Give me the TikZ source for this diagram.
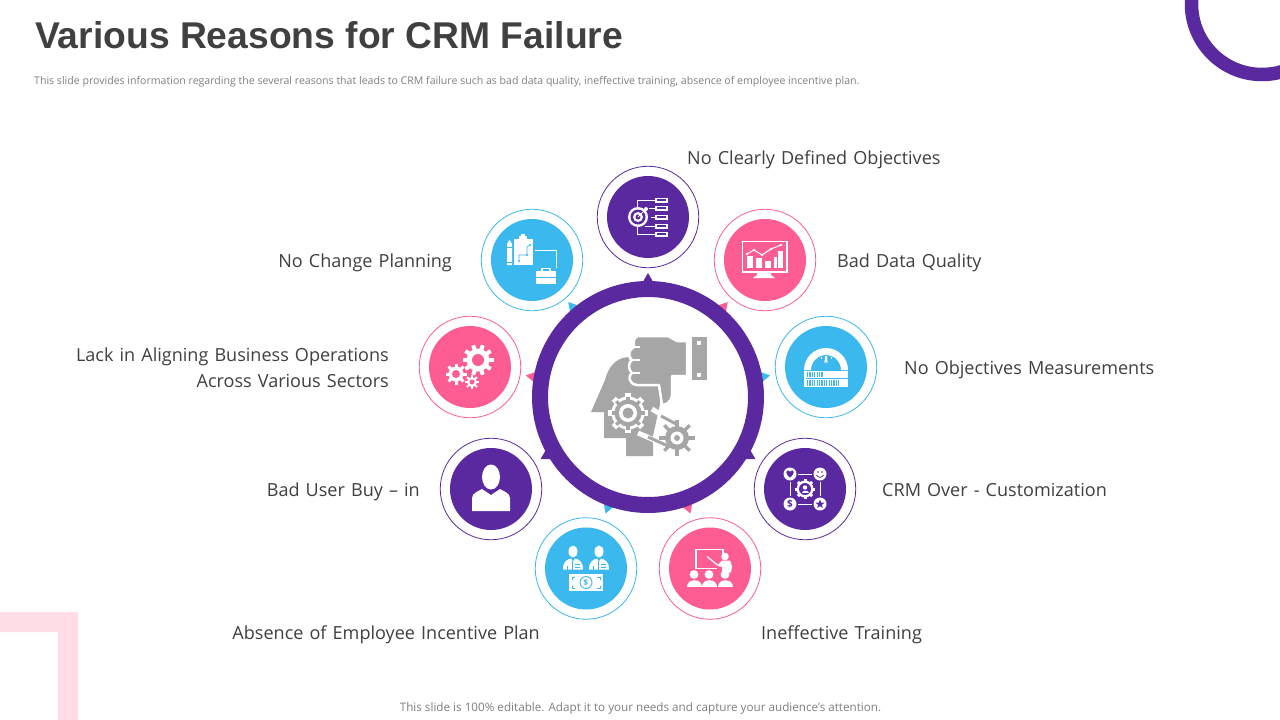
\documentclass[tikz,border=0pt]{standalone}
\usepackage{fontspec}
\setmainfont{Open Sans}
\newfontfamily\titlefont{Liberation Sans}
\newfontfamily\labelfont[WordSpace=1.3]{Open Sans}
\definecolor{cpurple}{HTML}{5A299F}
\definecolor{cpink}{HTML}{FD5D92}
\definecolor{cblue}{HTML}{3BB8EE}
\definecolor{cgray}{HTML}{A6A6A6}
\definecolor{ctitle}{HTML}{404040}
\definecolor{csub}{HTML}{7F7F7F}
\definecolor{clight}{HTML}{FFDCE6}
\tikzset{
  labeltext/.style={font=\labelfont\fontsize{18.05}{26}\selectfont,text=ctitle,inner sep=0pt},
  outerc/.style={circle,draw=#1,line width=0.8pt,minimum size=101.5pt,inner sep=0pt,fill=white},
  innerc/.style={circle,fill=#1,minimum size=82pt,inner sep=0pt},
  wline/.style={draw=white,line width=1.2pt},
  wfill/.style={fill=white}
}
\newcommand{\badge}[4]{%
  \node[outerc=#4] (o#1) at (#2,#3) {};
  \node[innerc=#4] (#1) at (o#1.center) {};
}
\newcommand{\pointer}[2]{%
  \begin{scope}[shift={(648,397)},rotate=-#1]
    \fill[#2] (0,-124) -- (-5.2,-115) -- (5.2,-115) -- cycle;
  \end{scope}
}
% x, y, outer, body, teeth, tooth width, colour
\newcommand{\gearat}[7]{%
  \fill[#7] (#1,#2) circle[radius=#4];
  \foreach \i in {1,...,#5}{\draw[#7,line width=#6pt] (#1,#2) -- ++({360/#5*\i}:#3);}
}
\begin{document}
\begin{tikzpicture}[x=1pt,y=-1pt]
\useasboundingbox (0,0) rectangle (1280,720);
\fill[white] (0,0) rectangle (1280,720);

% corner decorations
\begin{scope}
  \clip (0,0) rectangle (1280,720);
  \draw[cpurple,line width=13.5pt] (1262,4) circle[radius=70.5];
\end{scope}
\fill[clight] (0,612) -- (78,612) -- (78,720) -- (58,720) -- (58,632) -- (0,632) -- cycle;

% title and texts
\node[anchor=base west,inner sep=0pt,text=ctitle,font=\titlefont\bfseries\fontsize{37.25}{40}\selectfont] (title) at (35,48) {Various Reasons for CRM Failure};
\node[anchor=base west,inner sep=0pt,text=csub,font=\fontsize{10.57}{12}\selectfont] (sub) at (34,84) {This slide provides information regarding the several reasons that leads to CRM failure such as bad data quality, ineffective training, absence of employee incentive plan.};
\node[anchor=base,inner sep=0pt,text=csub,font=\fontsize{11.68}{13}\selectfont] (foot) at (640.5,711) {This slide is 100\% editable. Adapt it to your needs and capture your audience's attention.};

% pointers
\pointer{0}{cpurple}\pointer{40}{cpink}\pointer{80}{cblue}
\pointer{120}{cpurple}\pointer{160}{cpink}\pointer{200}{cblue}
\pointer{240}{cpurple}\pointer{280}{cpink}\pointer{320}{cblue}

% central ring
\node[circle,draw=cpurple,line width=16pt,minimum size=216pt,inner sep=0pt,fill=white] (hub) at (648,397) {};

% satellites
\badge{a}{648}{217}{cpurple}
\badge{b}{765}{260}{cpink}
\badge{c}{826}{367}{cblue}
\badge{d}{805}{489}{cpurple}
\badge{e}{710}{568.5}{cpink}
\badge{f}{586}{568.5}{cblue}
\badge{g}{491}{489}{cpurple}
\badge{h}{470}{367}{cpink}
\badge{i}{532}{260}{cblue}

% labels
\node[labeltext,anchor=base west] (la) at (687,164) {No Clearly Defined Objectives};
\node[labeltext,anchor=base west] (lb) at (837,267) {Bad Data Quality};
\node[labeltext,anchor=base west] (lc) at (904,374) {No Objectives Measurements};
\node[labeltext,anchor=base west] (ld) at (882,496) {CRM Over - Customization};
\node[labeltext,anchor=base west] (le) at (761,639) {Ineffective Training};
\node[labeltext,anchor=base east] (lf) at (540,639) {Absence of Employee Incentive Plan};
\node[labeltext,anchor=base east] (lg) at (420,496) {Bad User Buy – in};
\node[labeltext,anchor=east,align=right] (lh) at (389,367.5) {Lack in Aligning Business Operations\\Across Various Sectors};
\node[labeltext,anchor=base east] (li) at (452,267) {No Change Planning};

% central icon: head
\fill[cgray] (628,357) .. controls (615,358) and (608,368) .. (605,380) -- (591,412) -- (604,412) -- (604,438) -- (626,438) -- (626,456) -- (653,456) -- (653,436) -- (660,404) -- (660,385) -- (640,380) -- cycle;
% hand
\filldraw[cgray,draw=white,line width=2.5pt,line join=round] (638,336) -- (668,336) -- (677,341) -- (687,341) -- (687,376) -- (672,376) -- (672,396) .. controls (671,402) and (666,405) .. (662,405) -- (659,385) -- (637,385) .. controls (628,384) and (628,375) .. (632,373) .. controls (628,370) and (628,362) .. (632,360) .. controls (628,357) and (628,350) .. (634,347) .. controls (633,342) and (634,337) .. (638,336) -- cycle;
\draw[white,line width=1.6pt] (630,347) -- (640,347) (630,360) -- (640,360) (630,373) -- (640,373);
\fill[cgray] (692,337) rectangle (707,380);
\fill[white] (697,341) rectangle (701,345);
\fill[white] (697,373) rectangle (701,377);
% belts
\draw[white,line width=5pt] (652,409) -- (678,425);
\draw[white,line width=5pt] (638,433) -- (668,446);
\draw[cgray,line width=3pt] (661,416) -- (678,425);
\draw[cgray,line width=3pt] (648,437) -- (668,446);
% gears
\gearat{628}{413}{20}{16.5}{8}{6}{white}
\gearat{628}{413}{16.5}{13.5}{8}{3.5}{cgray}
\fill[white] (628,413) circle[radius=9];
\fill[cgray] (628,413) circle[radius=5.5];
\gearat{677}{438}{18}{12}{8}{3.5}{cgray}
\fill[white] (677,438) circle[radius=6.5];
\fill[cgray] (677,438) circle[radius=3];

% a: target and list
\begin{scope}[shift={(a.center)}]
  \fill[white] (-10,0) circle[radius=10];
  \fill[cpurple] (-10,0) circle[radius=7.5];
  \fill[white] (-10,0) circle[radius=5];
  \fill[cpurple] (-10,0) circle[radius=2.5];
  \draw[white,line width=1pt] (-10,0) -- (-2,-8);
  \fill[white] (-2,-8) circle[radius=2];
  \draw[wline,line width=.8pt] (-11,-10) -- (-11,-17) -- (7,-17);
  \draw[wline,line width=.8pt] (-11,10) -- (-11,17) -- (7,17);
  \draw[wline,line width=.8pt] (1,-9) -- (7,-9);
  \draw[wline,line width=.8pt] (3,0) -- (7,0);
  \draw[wline,line width=.8pt] (-3,9) -- (7,9);
  \foreach \yy in {-17,-9,0,9,17}{
    \fill[white] (7,\yy-2.5) rectangle (20,\yy+2.5);
    \fill[cpurple] (9,\yy-.7) rectangle (18,\yy+.7);
  }
\end{scope}

% b: monitor and chart
\begin{scope}[shift={(b.center)}]
  \draw[white,line width=1.5pt] (-22.5,-18.5) rectangle (22,12);
  \fill[white] (-8,12) -- (6,12) -- (6,15) -- (10,18) -- (-12,18) -- (-8,15) -- cycle;
  \fill[white] (-18,-4) rectangle (-12,8);
  \fill[white] (-9,-2) rectangle (-3,8);
  \fill[white] (0,1) rectangle (6,8);
  \fill[white] (9,-3) rectangle (12,8);
  \fill[white] (13,-9) rectangle (18,8);
  \draw[white,line width=1pt] (-18,-6) -- (-11,-10) -- (-3,-5) -- (6,-11) -- (16,-15);
  \foreach \p in {(-18,-6),(-11,-10),(-3,-5),(6,-11),(16,-15)}{\fill[white] \p circle[radius=1.3];}
\end{scope}

% c: gauge and scale
\begin{scope}[shift={(c.center)}]
  \fill[white] (-22,3) arc[start angle=180,end angle=360,radius=22] -- (15,3) arc[start angle=360,end angle=180,radius=15] -- cycle;
  \fill[white] (-22,3.5) rectangle (22,20);
  \fill[cblue] (-20,11) rectangle (22,12);
  \fill[white] (-1,-11) -- (1,-11) -- (1.5,-3) arc[start angle=0,end angle=180,radius=1.5,y radius=-2] -- cycle;
  \foreach \xx in {-10,-5,5,10}{\fill[white] (\xx-.4,-10) rectangle (\xx+.4,-8);}
  \foreach \xx in {-19,-16.6,...,-4}{\fill[cblue] (\xx,5) rectangle (\xx+1.2,10);}
  \foreach \xx in {-19,-16.6,...,13}{\fill[cblue] (\xx,13) rectangle (\xx+1.2,19);}
\end{scope}

% d: customization network
\begin{scope}[shift={(d.center)}]
  \draw[wline,line width=1pt] (-15,-15) rectangle (15,15);
  \foreach \xx/\yy in {-15/-15,15/-15,-15/15,15/15}{
    \fill[cpurple] (\xx,\yy) circle[radius=8];
    \fill[white] (\xx,\yy) circle[radius=6.5];
  }
  \gearat{0}{0}{10}{8.5}{8}{3}{white}
  \fill[cpurple] (0,0) circle[radius=6];
  \fill[white] (0,-1.5) circle[radius=2.2];
  \fill[white] (-3.5,4) .. controls (-3.5,1) and (3.5,1) .. (3.5,4) -- cycle;
  % heart
  \fill[cpurple] (-15,-11.5) .. controls (-20,-15) and (-19,-19) .. (-17,-18.5) .. controls (-16,-18.5) and (-15,-17.5) .. (-15,-17) .. controls (-15,-17.5) and (-14,-18.5) .. (-13,-18.5) .. controls (-11,-19) and (-10,-15) .. (-15,-11.5) -- cycle;
  % smile
  \fill[cpurple] (13,-17) circle[radius=.9] (17,-17) circle[radius=.9];
  \draw[cpurple,line width=.8pt] (11.5,-14) .. controls (13,-11) and (17,-11) .. (18.5,-14);
  % dollar
  \node[inner sep=0pt,text=cpurple,font=\bfseries\fontsize{10}{10}\selectfont] (dsign) at (-15,15) {\$};
  % star
  \fill[cpurple] (15,10.5) -- (16.2,13.7) -- (19.5,13.7) -- (16.9,15.8) -- (17.8,19) -- (15,17.1) -- (12.2,19) -- (13.1,15.8) -- (10.5,13.7) -- (13.8,13.7) -- cycle;
\end{scope}

% e: trainer and class
\begin{scope}[shift={(e.center)}]
  \draw[white,line width=1.1pt] (7,0) -- (-14,0) -- (-14,-19) -- (13,-19) -- (13,-13);
  \draw[white,line width=1.2pt] (-3,-12) -- (8,-3);
  \fill[white] (15,-12) circle[radius=3.8];
  \fill[white] (8,-4) -- (12,-8) -- (20,-8) -- (22,-2) -- (21,4) -- (12,4) -- (12,-2) -- (9,-2) -- cycle;
  \foreach \xx in {-16,-1,15}{
    \fill[white] (\xx,6) circle[radius=4.4];
    \fill[white] (\xx-7.5,18) .. controls (\xx-7.5,9) and (\xx+7.5,9) .. (\xx+7.5,18) -- cycle;
  }
\end{scope}

% f: staff and money
\begin{scope}[shift={(f.center)}]
  \foreach \xx in {-13,13}{
    \fill[white] (\xx,-17) ellipse[x radius=4.5,y radius=6];
    \fill[white] (\xx-10,1) .. controls (\xx-10,-7) and (\xx-6,-9) .. (\xx-2,-10) -- (\xx,-7) -- (\xx+2,-10) .. controls (\xx+6,-9) and (\xx+10,-7) .. (\xx+10,1) -- cycle;
    \draw[cblue,line width=.8pt] (\xx-1,-8) -- (\xx-1,1) (\xx-6,-3) -- (\xx-6,1);
    \draw[cblue,line width=.7pt] (\xx+1.5,-4) -- (\xx+7,-4) (\xx+1.5,-1.5) -- (\xx+7,-1.5);
  }
  \fill[white] (-17,5.5) rectangle (17,22);
  \draw[cblue,line width=.7pt] (-14,11) -- (-14,8.5) -- (-11,8.5) (11,8.5) -- (14,8.5) -- (14,11) (-14,17) -- (-14,19.5) -- (-11,19.5) (11,19.5) -- (14,19.5) -- (14,17);
  \draw[cblue,line width=.9pt] (0,14) circle[radius=6];
  \node[inner sep=0pt,text=cblue,font=\bfseries\fontsize{8}{8}\selectfont] (fsign) at (0,14) {\$};
\end{scope}

% g: user
\begin{scope}[shift={(g.center)}]
  \fill[white] (0,-12) ellipse[x radius=9,y radius=12.5];
  \fill[white] (-19,22) -- (-19,9) .. controls (-19,4) and (-12,2) .. (-9,0) -- (0,6) -- (9,0) .. controls (12,2) and (19,4) .. (19,9) -- (19,22) -- cycle;
\end{scope}

% h: three gears
\begin{scope}[shift={(h.center)}]
  \gearat{8}{-7}{15.5}{11.5}{10}{4}{white}
  \fill[cpink] (8,-7) circle[radius=6];
  \gearat{-14}{7}{10.5}{7.5}{8}{3}{white}
  \fill[cpink] (-14,7) circle[radius=4];
  \gearat{2}{15}{7}{5}{8}{2}{white}
  \fill[cpink] (2,15) circle[radius=2.5];
\end{scope}

% i: plan, pencil, briefcase
\begin{scope}[shift={(i.center)}]
  \fill[white] (-18,-21) rectangle (1,5);
  \fill[white] (-13,-24) rectangle (-5,-20);
  \fill[white] (-11,-26) rectangle (-7,-23);
  \draw[cblue,line width=.7pt] (-13,1) -- (-13,-5) -- (-5,-5) -- (-5,-13) -- (-2,-15);
  \fill[cblue] (-13,1) circle[radius=1.1] (-5,-5) circle[radius=1.1] (-2,-15) circle[radius=1.1];
  \fill[white] (-25,-16) -- (-22.5,-20.5) -- (-20,-16) -- (-20,5) -- (-25,5) -- cycle;
  \fill[cblue] (-25,-13.5) rectangle (-20,-12.7);
  \fill[cblue] (-25,2) rectangle (-20,2.8);
  \draw[white,line width=1pt] (3,-10) -- (24,-10) -- (24,8);
  \fill[white] (4,11) rectangle (24,24);
  \draw[white,line width=1.2pt] (10,11) -- (10,8.3) -- (18,8.3) -- (18,11);
  \fill[cblue] (4,16.5) rectangle (24,17.2);
\end{scope}
\end{tikzpicture}
\end{document}
